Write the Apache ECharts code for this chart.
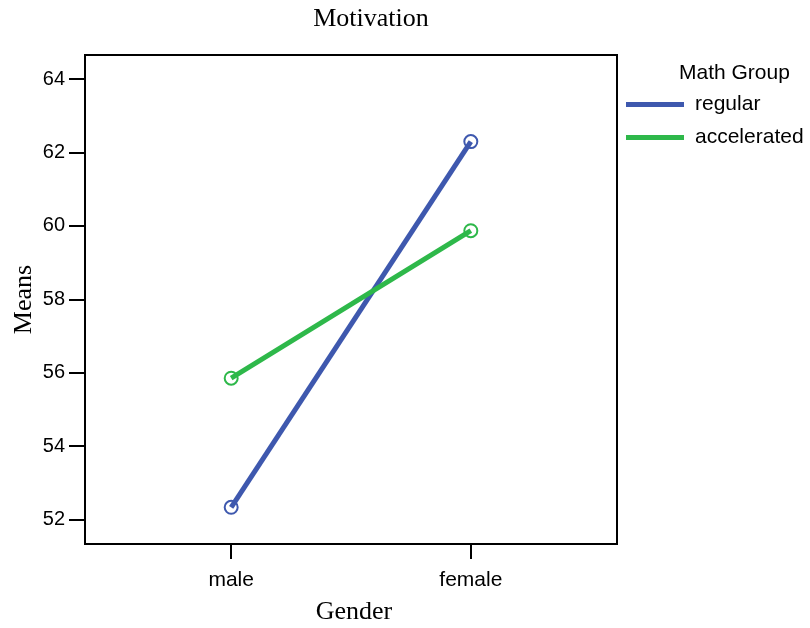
<!DOCTYPE html>
<html>
<head>
<meta charset="utf-8">
<script src="https://cdn.jsdelivr.net/npm/echarts@6/dist/echarts.min.js"></script>
<style>
  html, body { margin: 0; padding: 0; background: #fff; }
  #chart { width: 810px; height: 628px; }
</style>
</head>
<body>
<div id="chart"></div>
<script>
// Mean motivation scores by gender for each math group
const genders = ['male', 'female'];
const genderPositions = [1, 2];
const regularMeans = [52.33, 62.30];
const acceleratedMeans = [55.85, 59.87];
const yTicks = [52, 54, 56, 58, 60, 62, 64];
const groups = ['regular', 'accelerated'];
const groupColors = ['#3e58ae', '#2eb84a'];

const serif = '"Liberation Serif", "Times New Roman", serif';
const sans = '"Liberation Sans", Arial, sans-serif';

const toPoints = vals => genderPositions.map((x, i) => [x, vals[i]]);

function meanSeries(name, values, color) {
  return {
    name, type: 'line', data: toPoints(values),
    symbol: 'circle', symbolSize: 13,
    lineStyle: { color, width: 5 },
    itemStyle: { color: 'rgba(255,255,255,0)', borderWidth: 2, borderColor: color }
  };
}

const chart = echarts.init(document.getElementById('chart'));
chart.setOption({
  animation: false,
  backgroundColor: '#fff',
  color: groupColors,
  title: {
    text: 'Motivation',
    left: 366, top: 1, textAlign: 'center',
    textStyle: { fontFamily: serif, fontSize: 26, fontWeight: 'normal', color: '#000' }
  },
  grid: {
    left: 85, top: 55, width: 532, height: 489,
    outerBoundsMode: 'none', containLabel: false,
    show: true, borderColor: '#000', borderWidth: 2, backgroundColor: 'transparent'
  },
  xAxis: {
    type: 'value', min: 0.39, max: 2.61,
    name: 'Gender', nameLocation: 'middle', nameGap: 55,
    nameTextStyle: { fontFamily: serif, fontSize: 26, color: '#000', padding: [0, 0, 0, 6] },
    axisLine: { show: true, lineStyle: { color: '#000', width: 2 } },
    axisTick: { show: true, length: 15, lineStyle: { color: '#000', width: 2 }, customValues: genderPositions },
    axisLabel: {
      customValues: genderPositions, margin: 26,
      fontFamily: sans, fontSize: 21, color: '#000',
      formatter: v => genders[genderPositions.indexOf(v)] || ''
    },
    splitLine: { show: false }
  },
  yAxis: {
    type: 'value', min: 51.33, max: 64.66,
    name: 'Means', nameLocation: 'middle', nameGap: 48, nameRotate: 90,
    nameMoveOverlap: false,
    nameTextStyle: { fontFamily: serif, fontSize: 26, color: '#000' },
    axisLine: { show: true, lineStyle: { color: '#000', width: 2 } },
    axisTick: { show: true, length: 16, lineStyle: { color: '#000', width: 2 }, customValues: yTicks },
    axisLabel: { customValues: yTicks, margin: 20, fontFamily: sans, fontSize: 20, color: '#000' },
    splitLine: { show: false }
  },
  legend: {
    orient: 'vertical', left: 626, top: 94, padding: 0,
    itemWidth: 58, itemHeight: 5, itemGap: 12,
    icon: 'rect',
    textStyle: { fontFamily: sans, fontSize: 21, color: '#000', padding: [0, 0, 0, 6] },
    data: groups.map((name, i) => ({
      name, itemStyle: { color: groupColors[i], borderWidth: 0 }
    }))
  },
  graphic: [{
    type: 'text', left: 679, top: 63,
    style: { text: 'Math Group', fontFamily: sans, fontSize: 21, fill: '#000' }
  }],
  series: [
    meanSeries(groups[0], regularMeans, groupColors[0]),
    meanSeries(groups[1], acceleratedMeans, groupColors[1])
  ]
});
</script>
</body>
</html>
